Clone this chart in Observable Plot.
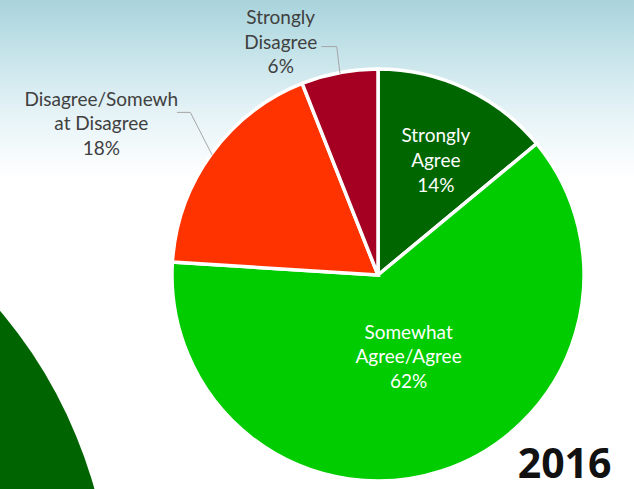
<!DOCTYPE html>
<html>
<head>
<meta charset="utf-8">
<script src="https://cdn.jsdelivr.net/npm/d3@7"></script>
<script src="https://cdn.jsdelivr.net/npm/@observablehq/plot@0.6"></script>
<style>
  html, body { margin: 0; padding: 0; }
  body {
    width: 634px; height: 489px; overflow: hidden; position: relative;
    background: linear-gradient(to bottom, #a9d3dc 0px, #c6e4ea 55px, #e4f2f6 110px, #f8fcfd 160px, #ffffff 180px);
  }
  #deco {
    position: absolute; left: -838px; top: 142px; width: 950px; height: 950px;
    border-radius: 50%; background: #006400;
  }
  #chart { position: absolute; left: 0; top: 0; }
</style>
</head>
<body>
<div id="deco"></div>
<div id="chart"></div>
<script>
// ---- data ----
const categories = ["Strongly Agree", "Somewhat Agree/Agree", "Disagree/Somewhat Disagree", "Strongly Disagree"];
const labelLines = ["Strongly\nAgree", "Somewhat\nAgree/Agree", "Disagree/Somewh\nat Disagree", "Strongly\nDisagree"];
const values = [14, 62, 18, 6];
const colors = ["#006600", "#00cc00", "#ff3300", "#a50021"];
const yearLabel = "2016";

// ---- layout (label placement, not data) ----
const inside = [true, true, false, false];
const labelRadius = [0.63, 0.415, 1.537, 1.235];       // fraction of pie radius
const labelAngleShift = [1, -2.6, -7.1, -11.8];        // degrees from slice mid-angle
const leaderStart = [null, null, [0.369, 0.049], [0.199, -0.029]]; // offset from label centre (pie units)
const leaderElbow = [null, null, [0.432, 0.049], [0.272, -0.029]];

// ---- geometry from data ----
const arcs = d3.pie().sort(null).value(d => d)(values);
const mid = arcs.map(a => (a.startAngle + a.endAngle) / 2);
const polar = (ang, r) => [Math.sin(ang) * r, Math.cos(ang) * r];

const labels = categories.map((c, i) => {
  const [x, y] = polar(mid[i] + labelAngleShift[i] * Math.PI / 180, labelRadius[i]);
  return {category: c, x, y, text: labelLines[i] + "\n" + values[i] + "%", inside: inside[i]};
});

const leaders = [];
categories.forEach((c, i) => {
  if (inside[i]) return;
  const L = labels[i];
  const [rx, ry] = polar(mid[i], 1);
  leaders.push({category: c, x: L.x + leaderStart[i][0], y: L.y + leaderStart[i][1]});
  leaders.push({category: c, x: L.x + leaderElbow[i][0], y: L.y + leaderElbow[i][1]});
  leaders.push({category: c, x: rx, y: ry});
});

function pieMark(index, scales) {
  const {x, y} = scales;
  const cx = x(0), cy = y(0), r = x(1) - x(0);
  const g = d3.create("svg:g").attr("transform", `translate(${cx},${cy})`);
  const arc = d3.arc().innerRadius(0).outerRadius(r);
  g.selectAll("path").data(arcs).join("path")
    .attr("d", arc)
    .attr("fill", (d, i) => colors[i])
    .attr("stroke", "white")
    .attr("stroke-width", 3.5);
  return g.node();
}

const R = 206, CX = 378, CY = 275, W = 634, H = 489;
const font = "Lato, 'Open Sans', sans-serif";

const plot = Plot.plot({
  width: W, height: H, margin: 0,
  style: {background: "transparent", overflow: "visible"},
  x: {domain: [-CX / R, (W - CX) / R], axis: null},
  y: {domain: [-(H - CY) / R, CY / R], axis: null},
  marks: [
    pieMark,
    Plot.line(leaders, {x: "x", y: "y", z: "category", stroke: "#a6a6a6", strokeWidth: 1}),
    Plot.text(labels, {
      x: "x", y: "y", text: "text",
      fill: d => d.inside ? "white" : "#404040",
      fontSize: 19, lineHeight: 1.3, fontFamily: font
    }),
    Plot.text([yearLabel], {
      frameAnchor: "bottom-right", dx: -23, dy: -12,
      fontSize: 41, fontWeight: "bold", fill: "#111", fontFamily: "'Open Sans', sans-serif",
      lineAnchor: "bottom"
    })
  ]
});
document.getElementById("chart").append(plot);
</script>
</body>
</html>
